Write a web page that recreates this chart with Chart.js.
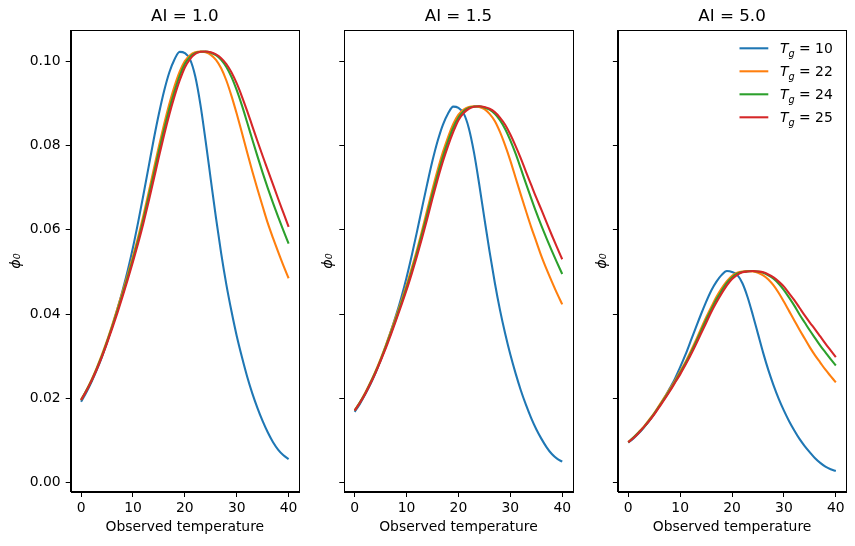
<!DOCTYPE html>
<html><head><meta charset="utf-8">
<script src="https://cdn.jsdelivr.net/npm/chart.js@4.4.1/dist/chart.umd.min.js"></script>
<style>
html,body{margin:0;padding:0;background:#fff;}
#wrap{position:relative;width:855px;height:546px;overflow:hidden;background:#fff;}
#wrap canvas{position:absolute;left:0;top:0;}
</style></head><body>
<div id="wrap">
<canvas id="c0" width="855" height="546"></canvas>
<canvas id="c1" width="855" height="546"></canvas>
<canvas id="c2" width="855" height="546"></canvas>
</div>
<script>
// ---- data ----
const temperature = [0,1,2,3,4,5,6,7,8,9,10,11,12,13,14,15,16,17,18,19,20,21,22,23,24,25,26,27,28,29,30,31,32,33,34,35,36,37,38,39,40];

const ai10_tg10 = [0.0192,0.0214,0.0239,0.0267,0.0298,0.0333,0.0371,0.0412,0.0456,0.0504,0.0558,0.0618,0.0682,0.0748,0.0814,0.0875,0.0929,0.0973,0.1004,0.1022,0.1019,0.1004,0.0964,0.0897,0.0811,0.0719,0.0628,0.0544,0.0470,0.0406,0.0348,0.0298,0.0252,0.0212,0.0177,0.0146,0.0119,0.0096,0.0078,0.0065,0.0056];
const ai10_tg22 = [0.0197,0.0219,0.0244,0.0272,0.0303,0.0337,0.0374,0.0413,0.0453,0.0494,0.0537,0.0583,0.0633,0.0687,0.0743,0.0798,0.0850,0.0898,0.0940,0.0975,0.1000,0.1014,0.1021,0.1023,0.1021,0.1015,0.1003,0.0983,0.0954,0.0917,0.0875,0.0830,0.0784,0.0739,0.0696,0.0655,0.0615,0.0580,0.0547,0.0515,0.0485];
const ai10_tg24 = [0.0196,0.0218,0.0242,0.0270,0.0300,0.0334,0.0370,0.0408,0.0447,0.0488,0.0530,0.0575,0.0624,0.0677,0.0731,0.0786,0.0838,0.0886,0.0928,0.0965,0.0993,0.1010,0.1019,0.1022,0.1023,0.1020,0.1014,0.1003,0.0986,0.0962,0.0931,0.0895,0.0855,0.0814,0.0774,0.0735,0.0698,0.0663,0.0630,0.0598,0.0567];
const ai10_tg25 = [0.0196,0.0217,0.0241,0.0268,0.0298,0.0331,0.0366,0.0403,0.0442,0.0482,0.0524,0.0568,0.0615,0.0666,0.0719,0.0773,0.0825,0.0873,0.0916,0.0954,0.0985,0.1005,0.1017,0.1022,0.1023,0.1021,0.1016,0.1007,0.0993,0.0973,0.0947,0.0916,0.0882,0.0846,0.0810,0.0775,0.0741,0.0707,0.0673,0.0640,0.0607];

const ai15_tg10 = [0.0168,0.0187,0.0209,0.0233,0.0260,0.0291,0.0324,0.0360,0.0398,0.0440,0.0487,0.0539,0.0595,0.0653,0.0710,0.0764,0.0811,0.0849,0.0876,0.0892,0.0889,0.0876,0.0841,0.0783,0.0708,0.0627,0.0548,0.0475,0.0410,0.0354,0.0304,0.0260,0.0220,0.0185,0.0154,0.0127,0.0104,0.0084,0.0068,0.0057,0.0050];
const ai15_tg22 = [0.0172,0.0191,0.0213,0.0237,0.0264,0.0294,0.0326,0.0360,0.0395,0.0431,0.0469,0.0509,0.0552,0.0599,0.0648,0.0696,0.0742,0.0784,0.0820,0.0851,0.0873,0.0885,0.0891,0.0893,0.0891,0.0886,0.0875,0.0858,0.0832,0.0800,0.0764,0.0724,0.0684,0.0645,0.0607,0.0572,0.0537,0.0506,0.0477,0.0449,0.0423];
const ai15_tg24 = [0.0171,0.0190,0.0211,0.0236,0.0262,0.0291,0.0323,0.0356,0.0390,0.0426,0.0462,0.0502,0.0545,0.0591,0.0638,0.0686,0.0731,0.0773,0.0810,0.0842,0.0866,0.0881,0.0889,0.0892,0.0893,0.0890,0.0885,0.0875,0.0860,0.0839,0.0812,0.0781,0.0746,0.0710,0.0675,0.0641,0.0609,0.0579,0.0550,0.0522,0.0495];
const ai15_tg25 = [0.0171,0.0189,0.0210,0.0234,0.0260,0.0289,0.0319,0.0352,0.0386,0.0421,0.0457,0.0496,0.0537,0.0581,0.0627,0.0675,0.0720,0.0762,0.0799,0.0832,0.0860,0.0877,0.0887,0.0892,0.0893,0.0891,0.0887,0.0879,0.0866,0.0849,0.0826,0.0799,0.0770,0.0738,0.0707,0.0676,0.0647,0.0617,0.0587,0.0558,0.0530];

const ai50_tg10 = [0.0095,0.0105,0.0117,0.0131,0.0146,0.0163,0.0182,0.0202,0.0224,0.0247,0.0274,0.0303,0.0335,0.0367,0.0399,0.0429,0.0456,0.0477,0.0493,0.0502,0.0500,0.0493,0.0473,0.0440,0.0398,0.0353,0.0308,0.0267,0.0231,0.0199,0.0171,0.0146,0.0124,0.0104,0.0087,0.0072,0.0058,0.0047,0.0038,0.0032,0.0028];
const ai50_tg22 = [0.0097,0.0107,0.0120,0.0133,0.0149,0.0165,0.0184,0.0203,0.0222,0.0242,0.0264,0.0286,0.0311,0.0337,0.0365,0.0392,0.0417,0.0441,0.0461,0.0478,0.0491,0.0498,0.0501,0.0502,0.0501,0.0498,0.0492,0.0482,0.0468,0.0450,0.0429,0.0407,0.0385,0.0363,0.0342,0.0321,0.0302,0.0285,0.0268,0.0253,0.0238];
const ai50_tg24 = [0.0096,0.0107,0.0119,0.0132,0.0147,0.0164,0.0182,0.0200,0.0219,0.0239,0.0260,0.0282,0.0306,0.0332,0.0359,0.0386,0.0411,0.0435,0.0455,0.0474,0.0487,0.0496,0.0500,0.0501,0.0502,0.0501,0.0498,0.0492,0.0484,0.0472,0.0457,0.0439,0.0420,0.0399,0.0380,0.0361,0.0343,0.0325,0.0309,0.0293,0.0278];
const ai50_tg25 = [0.0096,0.0106,0.0118,0.0132,0.0146,0.0162,0.0180,0.0198,0.0217,0.0237,0.0257,0.0279,0.0302,0.0327,0.0353,0.0379,0.0405,0.0428,0.0449,0.0468,0.0483,0.0493,0.0499,0.0501,0.0502,0.0501,0.0499,0.0494,0.0487,0.0477,0.0465,0.0449,0.0433,0.0415,0.0397,0.0380,0.0364,0.0347,0.0330,0.0314,0.0298];

const tgValues = [10, 22, 24, 25];
const panelTitles = ['AI = 1.0', 'AI = 1.5', 'AI = 5.0'];
const xTicks = [0, 10, 20, 30, 40];
const yTicks = [0, 0.02, 0.04, 0.06, 0.08, 0.10];
const yTickLabels = ['0.00', '0.02', '0.04', '0.06', '0.08', '0.10'];
const xLabel = 'Observed temperature';
const yLabel = '\u03d5\u2080';

// ---- styling / layout ----
const colors = ['#1f77b4', '#ff7f0e', '#2ca02c', '#d62728'];
const panelSeries = [
  [ai10_tg10, ai10_tg22, ai10_tg24, ai10_tg25],
  [ai15_tg10, ai15_tg22, ai15_tg24, ai15_tg25],
  [ai50_tg10, ai50_tg22, ai50_tg24, ai50_tg25]
];
const areaLeft = [70.7, 344.3, 617.9];
const areaRight = [299.0, 572.6, 846.2];
const scaleLeft = [0, 310, 583.6];
const yTitlePad = [7.7, 9.5, 9.5];
const FONT = '"DejaVu Sans", "Liberation Sans", sans-serif';

const frame = {
  id: 'frame',
  afterDraw(chart) {
    const a = chart.chartArea, ctx = chart.ctx;
    ctx.save();
    ctx.strokeStyle = '#000';
    ctx.lineWidth = 1;
    ctx.strokeRect(Math.round(a.left) + 0.5, Math.round(a.top) + 0.5,
                   Math.round(a.right) - Math.round(a.left), Math.round(a.bottom) - Math.round(a.top));
    ctx.restore();
  }
};

const tgLegend = {
  id: 'tgLegend',
  afterDraw(chart) {
    const ctx = chart.ctx;
    ctx.save();
    const x0 = 739.5, x1 = 768.3, tx = 780;
    tgValues.forEach((tg, k) => {
      const y = 48.3 + k * 23;
      ctx.strokeStyle = colors[k];
      ctx.lineWidth = 2.08;
      ctx.beginPath(); ctx.moveTo(x0, y); ctx.lineTo(x1, y); ctx.stroke();
      ctx.fillStyle = '#000';
      ctx.textAlign = 'left';
      ctx.textBaseline = 'alphabetic';
      const base = y + 5;
      let x = tx;
      ctx.font = 'italic 13.9px ' + FONT;
      ctx.fillText('T', x, base); x += ctx.measureText('T').width;
      ctx.font = 'italic 9.7px ' + FONT;
      ctx.fillText('g', x, base + 3.3); x += ctx.measureText('g').width;
      ctx.font = '13.9px ' + FONT;
      ctx.fillText(' = ' + tg, x, base);
    });
    ctx.restore();
  }
};

panelSeries.forEach((series, i) => {
  const plugins = [frame];
  if (i === 2) plugins.push(tgLegend);
  new Chart(document.getElementById('c' + i), {
    type: 'line',
    data: {
      datasets: series.map((arr, k) => ({
        label: 'Tg = ' + tgValues[k],
        data: temperature.map((t, j) => ({ x: t, y: arr[j] })),
        borderColor: colors[k],
        backgroundColor: colors[k],
        borderWidth: 2.08,
        pointRadius: 0,
        fill: false,
        cubicInterpolationMode: 'monotone',
        order: 4 - k
      }))
    },
    options: {
      responsive: false,
      animation: false,
      devicePixelRatio: 1,
      events: [],
      layout: { padding: { left: scaleLeft[i], right: 855 - areaRight[i], top: 0, bottom: 6.7 } },
      plugins: {
        legend: { display: false },
        tooltip: { enabled: false },
        title: {
          display: true, text: panelTitles[i], fullSize: false, align: 'center',
          color: '#000', font: { family: FONT, size: 16.7, weight: 'normal' },
          padding: { top: 6.5, bottom: 3.8 }
        }
      },
      scales: {
        x: {
          type: 'linear', min: -2, max: 42,
          afterBuildTicks: s => { s.ticks = xTicks.map(v => ({ value: v })); },
          afterFit: s => { s.height = 47.3; },
          ticks: { color: '#000', font: { family: FONT, size: 13.9 }, padding: 3, maxRotation: 0,
                   callback: v => String(v) },
          grid: { drawOnChartArea: false, drawTicks: true, tickLength: 5, tickColor: '#000', tickWidth: 1 },
          border: { display: true, color: '#000', width: 1 },
          title: { display: true, text: xLabel, color: '#000', font: { family: FONT, size: 13.9 },
                   padding: { top: 0, bottom: 3.5 } }
        },
        y: {
          type: 'linear', min: -0.0022, max: 0.1073,
          afterBuildTicks: s => { s.ticks = yTicks.map(v => ({ value: v })); },
          afterFit: s => { s.width = areaLeft[i] - scaleLeft[i]; },
          ticks: { display: i === 0, color: '#000', font: { family: FONT, size: 13.9 }, padding: 5,
                   callback: (v, idx) => yTickLabels[idx] },
          grid: { drawOnChartArea: false, drawTicks: true, tickLength: 5, tickColor: '#000', tickWidth: 1 },
          border: { display: true, color: '#000', width: 1 },
          title: { display: true, text: yLabel, color: '#000',
                   font: { family: FONT, size: 14.5, style: 'italic' },
                   padding: { top: yTitlePad[i], bottom: 0 } }
        }
      }
    },
    plugins: plugins
  });
});
</script>
</body></html>
